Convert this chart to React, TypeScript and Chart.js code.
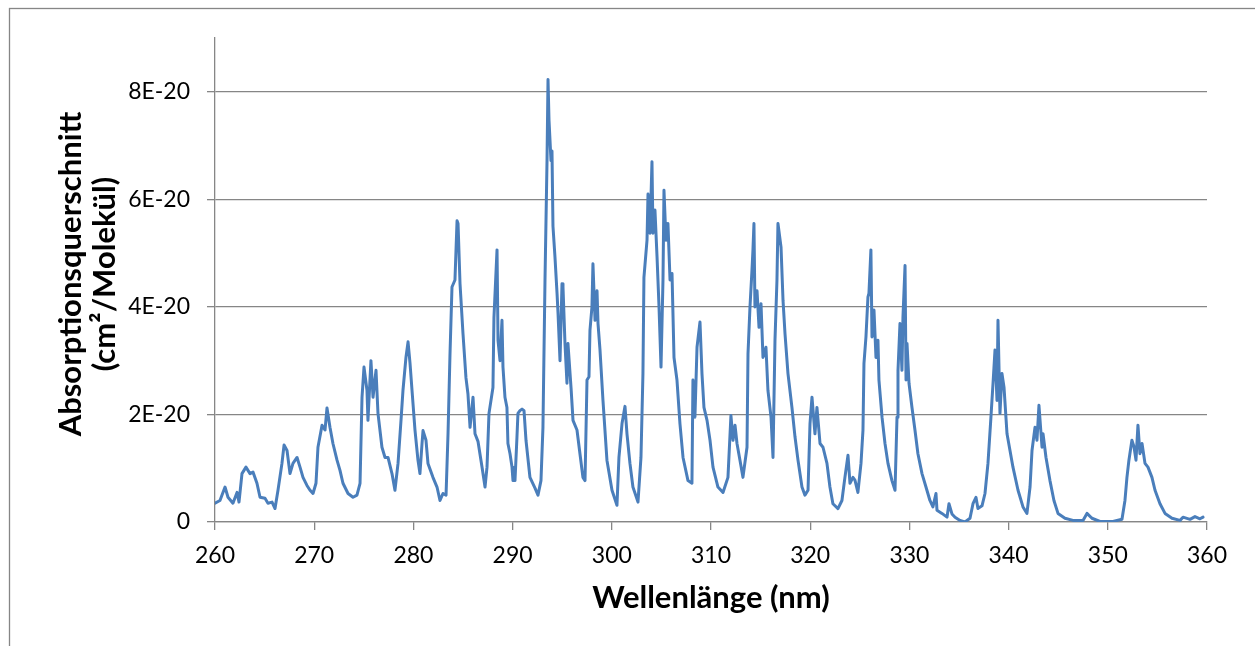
import { useEffect, useRef } from 'react';
import { Chart, registerables } from 'chart.js';

Chart.register(...registerables);

// Wavelength in nm
const wavelengthNm = [
  260.0, 260.5, 261.01, 261.31, 261.81, 262.22, 262.42, 262.72, 263.12, 263.53, 263.83, 264.23, 264.54, 265.04, 265.34, 265.75, 266.05, 266.35, 266.75, 266.96,
  267.26, 267.56, 267.86, 268.27, 268.57, 268.87, 269.27, 269.58, 269.88, 270.18, 270.38, 270.79, 271.09, 271.29, 271.59, 271.89, 272.3, 272.6, 272.9, 273.41,
  273.91, 274.31, 274.62, 274.82, 275.02, 275.32, 275.42, 275.72, 275.93, 276.23, 276.43, 276.83, 277.14, 277.44, 277.84, 278.14, 278.45, 278.75, 278.95, 279.25,
  279.46, 279.66, 279.86, 280.16, 280.46, 280.66, 280.87, 280.97, 281.27, 281.47, 281.97, 282.38, 282.68, 282.98, 283.29, 283.49, 283.69, 283.89, 284.19, 284.4,
  284.5, 284.7, 285.0, 285.3, 285.5, 285.71, 286.01, 286.21, 286.51, 286.92, 287.22, 287.42, 287.62, 288.02, 288.12, 288.43, 288.53, 288.73, 288.93, 289.03,
  289.23, 289.43, 289.53, 289.74, 289.94, 290.04, 290.24, 290.44, 290.54, 290.74, 290.95, 291.15, 291.35, 291.75, 292.26, 292.56, 292.86, 293.06, 293.27, 293.47,
  293.57, 293.67, 293.87, 293.97, 294.07, 294.27, 294.48, 294.58, 294.78, 294.98, 295.08, 295.28, 295.48, 295.58, 295.89, 296.09, 296.49, 296.79, 297.09, 297.3,
  297.5, 297.7, 297.8, 298.0, 298.1, 298.31, 298.51, 298.61, 298.81, 299.11, 299.51, 300.02, 300.52, 300.72, 301.03, 301.33, 301.53, 301.83, 302.13, 302.64,
  302.94, 303.14, 303.24, 303.55, 303.65, 303.85, 304.05, 304.15, 304.35, 304.56, 304.76, 304.96, 305.16, 305.26, 305.46, 305.66, 305.87, 306.07, 306.27, 306.57,
  306.87, 307.18, 307.68, 308.08, 308.18, 308.38, 308.59, 308.89, 309.09, 309.29, 309.6, 309.9, 310.2, 310.7, 311.21, 311.71, 312.01, 312.22, 312.42, 312.62,
  312.92, 313.22, 313.63, 313.73, 313.93, 314.13, 314.23, 314.33, 314.43, 314.64, 314.84, 315.04, 315.24, 315.54, 315.74, 316.05, 316.25, 316.45, 316.65, 316.75,
  317.06, 317.26, 317.46, 317.76, 318.16, 318.47, 318.77, 319.17, 319.47, 319.78, 319.98, 320.18, 320.48, 320.68, 320.99, 321.29, 321.69, 321.99, 322.29, 322.8,
  323.2, 323.5, 323.81, 324.01, 324.31, 324.51, 324.81, 325.12, 325.32, 325.42, 325.62, 325.82, 325.92, 326.12, 326.23, 326.43, 326.63, 326.83, 326.93, 327.24,
  327.54, 327.84, 328.24, 328.55, 328.75, 328.85, 329.05, 329.25, 329.35, 329.56, 329.66, 329.76, 329.96, 330.26, 330.56, 330.86, 331.27, 331.67, 332.07, 332.37,
  332.68, 332.78, 333.28, 333.79, 333.99, 334.29, 334.6, 335.1, 335.6, 336.11, 336.41, 336.71, 336.91, 337.32, 337.62, 337.92, 338.22, 338.43, 338.63, 338.83,
  338.93, 339.13, 339.33, 339.54, 339.84, 340.14, 340.44, 340.95, 341.45, 341.85, 342.16, 342.36, 342.66, 342.86, 343.06, 343.37, 343.47, 343.77, 344.17, 344.57,
  344.98, 345.68, 346.49, 347.5, 347.9, 348.4, 349.21, 350.52, 351.43, 351.73, 351.93, 352.13, 352.43, 352.64, 352.84, 353.04, 353.24, 353.45, 353.75, 354.05,
  354.45, 354.76, 355.26, 355.77, 356.47, 357.28, 357.58, 358.29, 358.79, 359.29, 359.6,
];

// Absorption cross section in units of 1E-20 cm²/molecule
const absorption = [
  0.35, 0.4, 0.65, 0.46, 0.35, 0.55, 0.37, 0.9, 1.02, 0.9, 0.93, 0.72, 0.46, 0.44, 0.35, 0.37, 0.25, 0.59, 1.09, 1.43,
  1.33, 0.9, 1.09, 1.2, 1.02, 0.83, 0.68, 0.59, 0.53, 0.72, 1.39, 1.8, 1.71, 2.12, 1.76, 1.46, 1.15, 0.96, 0.72, 0.53,
  0.46, 0.5, 0.72, 2.32, 2.88, 2.45, 1.89, 3.0, 2.32, 2.82, 2.02, 1.39, 1.2, 1.2, 0.9, 0.59, 1.09, 1.89, 2.45, 3.06,
  3.35, 2.95, 2.45, 1.71, 1.15, 0.9, 1.46, 1.7, 1.52, 1.09, 0.83, 0.65, 0.4, 0.53, 0.5, 1.64, 3.13, 4.37, 4.5, 5.6,
  5.55, 4.43, 3.5, 2.68, 2.38, 1.76, 2.32, 1.64, 1.5, 1.02, 0.65, 1.02, 2.02, 2.5, 3.8, 5.06, 3.38, 3.0, 3.75, 2.88,
  2.32, 2.13, 1.46, 1.27, 1.02, 0.77, 0.77, 1.58, 2.02, 2.07, 2.1, 2.07, 1.52, 0.83, 0.63, 0.5, 0.77, 1.76, 4.55, 6.72,
  8.23, 7.47, 6.72, 6.9, 5.5, 4.93, 4.25, 3.88, 3.0, 4.43, 4.37, 3.32, 2.58, 3.32, 2.5, 1.89, 1.71, 1.27, 0.83, 0.77,
  2.64, 2.7, 3.57, 4.0, 4.8, 3.75, 4.3, 3.69, 3.2, 2.26, 1.15, 0.59, 0.31, 1.2, 1.83, 2.15, 1.64, 1.09, 0.65, 0.37,
  1.2, 2.76, 4.55, 5.24, 6.1, 5.37, 6.7, 5.37, 5.8, 4.93, 4.0, 2.88, 4.5, 6.17, 5.24, 5.55, 4.5, 4.62, 3.06, 2.64,
  1.83, 1.2, 0.77, 0.72, 2.64, 1.95, 3.25, 3.72, 2.76, 2.13, 1.89, 1.52, 1.02, 0.65, 0.55, 0.83, 1.98, 1.52, 1.8, 1.46,
  1.15, 0.83, 1.39, 3.13, 4.0, 4.68, 5.06, 5.55, 4.0, 4.3, 3.62, 4.06, 3.06, 3.25, 2.45, 1.95, 1.2, 3.38, 4.5, 5.55,
  5.11, 4.12, 3.5, 2.76, 2.13, 1.58, 1.15, 0.65, 0.5, 0.59, 1.83, 2.32, 1.64, 2.13, 1.46, 1.39, 1.09, 0.65, 0.34, 0.25,
  0.4, 0.83, 1.24, 0.72, 0.83, 0.78, 0.55, 1.09, 1.71, 2.95, 3.44, 4.18, 4.25, 5.06, 3.44, 3.94, 3.06, 3.38, 2.64, 1.95,
  1.46, 1.09, 0.77, 0.59, 1.95, 2.82, 3.69, 2.82, 3.8, 4.77, 2.64, 3.32, 2.58, 2.13, 1.71, 1.27, 0.9, 0.65, 0.4, 0.28,
  0.53, 0.22, 0.16, 0.09, 0.34, 0.15, 0.09, 0.03, 0.0, 0.07, 0.34, 0.46, 0.25, 0.3, 0.53, 1.09, 1.95, 2.58, 3.2, 2.26,
  3.75, 2.02, 2.76, 2.5, 1.64, 1.33, 1.02, 0.59, 0.28, 0.16, 0.65, 1.33, 1.76, 1.52, 2.17, 1.39, 1.64, 1.2, 0.77, 0.4,
  0.16, 0.07, 0.03, 0.03, 0.16, 0.07, 0.01, 0.01, 0.05, 0.4, 0.83, 1.15, 1.52, 1.4, 1.15, 1.8, 1.27, 1.46, 1.09, 1.02,
  0.83, 0.59, 0.34, 0.16, 0.07, 0.03, 0.09, 0.05, 0.1, 0.06, 0.09,
];

const X_MIN = 260;
const X_MAX = 360;
const X_STEP = 10;
const Y_MIN = 0;
const Y_MAX = 9;
const Y_STEP = 2;

const X_TITLE = 'Wellenlänge (nm)';
const Y_TITLE = ['Absorptionsquerschnitt', '(cm²/Molekül)'];

const LINE_COLOR = '#4a7ebb';
const GRID_COLOR = '#868686';
const FONT = 'Lato';

export default function App() {
  const canvasRef = useRef<HTMLCanvasElement | null>(null);

  useEffect(() => {
    const canvas = canvasRef.current;
    if (!canvas) return;

    const decorations = {
      id: 'decorations',
      afterDraw(chart: any) {
        const ctx = chart.ctx as CanvasRenderingContext2D;
        const { left, right, top, bottom } = chart.chartArea;
        ctx.save();
        // outer chart border
        ctx.strokeStyle = GRID_COLOR;
        ctx.lineWidth = 1.3;
        ctx.strokeRect(9.5, 8.5, 1400, 800);
        // axis titles
        ctx.fillStyle = '#000';
        ctx.font = `bold 31px ${FONT}`;
        ctx.textAlign = 'center';
        ctx.textBaseline = 'alphabetic';
        ctx.fillText(X_TITLE, (left + right) / 2, 608);
        ctx.translate(81, (top + bottom) / 2 - 6);
        ctx.rotate(-Math.PI / 2);
        ctx.fillText(Y_TITLE[0], 0, 0);
        ctx.fillText(Y_TITLE[1], 0, 34);
        ctx.restore();
      },
    };

    const chart = new Chart(canvas, {
      type: 'line',
      data: {
        datasets: [
          {
            data: wavelengthNm.map((x, i) => ({ x, y: absorption[i] })),
            borderColor: LINE_COLOR,
            borderWidth: 3,
            pointRadius: 0,
            tension: 0,
            fill: false,
            borderJoinStyle: 'round',
            borderCapStyle: 'round',
          },
        ],
      },
      options: {
        responsive: false,
        animation: false,
        devicePixelRatio: 1,
        layout: { padding: { left: 0, top: 38, right: 48, bottom: 0 } },
        plugins: { legend: { display: false }, tooltip: { enabled: false } },
        scales: {
          x: {
            type: 'linear',
            min: X_MIN,
            max: X_MAX,
            afterFit: (s: any) => {
              s.height = 124;
            },
            ticks: {
              stepSize: X_STEP,
              color: '#000',
              font: { family: FONT, size: 23 },
              padding: 12,
              maxRotation: 0,
            },
            grid: {
              drawOnChartArea: false,
              drawTicks: true,
              tickLength: 8,
              color: GRID_COLOR,
              lineWidth: 1.3,
            },
            border: { color: GRID_COLOR, width: 1.3 },
          },
          y: {
            type: 'linear',
            min: Y_MIN,
            max: Y_MAX,
            afterFit: (s: any) => {
              s.width = 215;
            },
            ticks: {
              stepSize: Y_STEP,
              includeBounds: false,
              color: '#000',
              font: { family: FONT, size: 23 },
              padding: 17,
              callback: (v: any) => (Number(v) === 0 ? '0' : `${v}E-20`),
            },
            grid: {
              drawOnChartArea: true,
              drawTicks: true,
              tickLength: 8,
              color: GRID_COLOR,
              lineWidth: 1.3,
            },
            border: { color: GRID_COLOR, width: 1.3 },
          },
        },
      },
      plugins: [decorations],
    });

    return () => chart.destroy();
  }, []);

  return (
    <div style={{ position: 'fixed', left: 0, top: 0, width: 1255, height: 646, background: '#fff' }}>
      <canvas ref={canvasRef} width={1255} height={646} style={{ display: 'block' }} />
    </div>
  );
}
